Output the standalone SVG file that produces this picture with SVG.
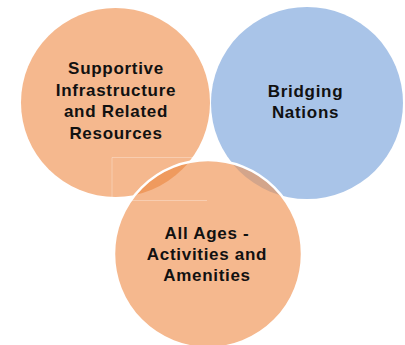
<svg xmlns="http://www.w3.org/2000/svg" width="405" height="345" viewBox="0 0 405 345">
<style>
.lbl{font-family:"Liberation Sans",Arial,sans-serif;font-weight:bold;font-size:17px;letter-spacing:0.7px;fill:#111;text-anchor:middle}
.or{fill:#F5B88E}
.bl{fill:#A9C4E8}
</style>
<defs>
<clipPath id="cb"><circle cx="208" cy="254" r="94"/></clipPath>
</defs>
<rect width="405" height="345" fill="#fff"/>
<g id="node-supportive">
<circle class="or" cx="115.5" cy="102.5" r="94.5"/>
<text class="lbl" x="116" y="74">Supportive</text>
<text class="lbl" x="116" y="95.5">Infrastructure</text>
<text class="lbl" x="116" y="117">and Related</text>
<text class="lbl" x="116" y="138.5">Resources</text>
</g>
<g id="node-bridging">
<circle class="bl" cx="307" cy="103" r="96"/>
<text class="lbl" x="305.5" y="96.5">Bridging</text>
<text class="lbl" x="305.5" y="118">Nations</text>
</g>
<g id="node-allages">
<circle class="or" cx="208" cy="254" r="94"/>
<g clip-path="url(#cb)">
<circle cx="115.5" cy="102.5" r="94.5" fill="#EF9A5E"/>
<circle cx="307" cy="103" r="96" fill="#D3A58B"/>
</g>
<circle cx="208" cy="254" r="94" fill="none" stroke="#fff" stroke-width="2.5"/>
<path d="M207,157.5 H112 V200.5 H207" fill="none" stroke="#fff" stroke-opacity="0.3" stroke-width="1"/>
<text class="lbl" x="207" y="238.5">All Ages -</text>
<text class="lbl" x="207" y="259.5">Activities and</text>
<text class="lbl" x="207" y="280.5">Amenities</text>
</g>
<g id="connectors"/>
</svg>
